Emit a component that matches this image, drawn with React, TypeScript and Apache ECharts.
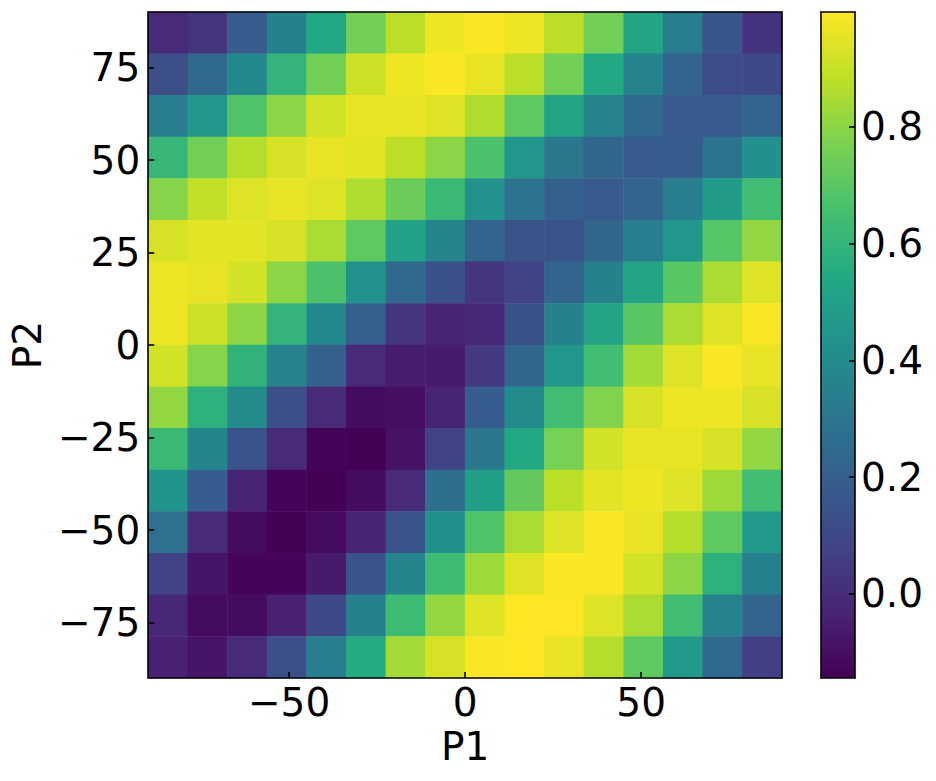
import React, { useEffect, useRef } from "react";
import * as echarts from "echarts";

// cell centres along P1 (left to right) and P2 (bottom to top)
const p1Centers = ["-84.375", "-73.125", "-61.875", "-50.625", "-39.375", "-28.125", "-16.875", "-5.625", "5.625", "16.875", "28.125", "39.375", "50.625", "61.875", "73.125", "84.375"];
const p2Centers = ["-84.375", "-73.125", "-61.875", "-50.625", "-39.375", "-28.125", "-16.875", "-5.625", "5.625", "16.875", "28.125", "39.375", "50.625", "61.875", "73.125", "84.375"];

// values, rows listed from top (P2 = 84.4) to bottom (P2 = -84.4)
const zRows: number[][] = [
  [-0.01, 0.03, 0.19, 0.35, 0.54, 0.75, 0.88, 0.97, 0.99, 0.97, 0.88, 0.75, 0.52, 0.34, 0.16, 0.02],
  [0.13, 0.24, 0.39, 0.6, 0.75, 0.91, 0.97, 0.99, 0.96, 0.88, 0.75, 0.54, 0.36, 0.22, 0.12, 0.11],
  [0.34, 0.46, 0.68, 0.8, 0.92, 0.96, 0.96, 0.94, 0.86, 0.71, 0.52, 0.36, 0.24, 0.18, 0.18, 0.22],
  [0.61, 0.75, 0.87, 0.93, 0.96, 0.95, 0.88, 0.8, 0.67, 0.45, 0.31, 0.23, 0.18, 0.19, 0.29, 0.42],
  [0.79, 0.89, 0.94, 0.96, 0.94, 0.86, 0.74, 0.62, 0.43, 0.29, 0.2, 0.18, 0.22, 0.34, 0.48, 0.64],
  [0.93, 0.95, 0.95, 0.93, 0.85, 0.71, 0.51, 0.37, 0.22, 0.15, 0.15, 0.23, 0.34, 0.45, 0.69, 0.81],
  [0.97, 0.96, 0.92, 0.8, 0.67, 0.43, 0.24, 0.14, 0.03, 0.08, 0.22, 0.35, 0.52, 0.7, 0.85, 0.94],
  [0.97, 0.91, 0.8, 0.6, 0.39, 0.2, 0.03, -0.03, -0.02, 0.14, 0.35, 0.52, 0.7, 0.85, 0.94, 0.99],
  [0.92, 0.79, 0.59, 0.36, 0.21, -0.01, -0.05, -0.06, 0.05, 0.23, 0.45, 0.64, 0.84, 0.94, 0.99, 0.96],
  [0.81, 0.58, 0.4, 0.13, -0.01, -0.11, -0.1, -0.03, 0.19, 0.4, 0.64, 0.78, 0.93, 0.97, 0.97, 0.93],
  [0.62, 0.37, 0.15, -0.01, -0.13, -0.14, -0.09, 0.08, 0.31, 0.54, 0.76, 0.92, 0.96, 0.96, 0.93, 0.81],
  [0.44, 0.19, -0.03, -0.13, -0.14, -0.11, -0.01, 0.27, 0.5, 0.72, 0.88, 0.95, 0.97, 0.94, 0.83, 0.64],
  [0.28, -0.01, -0.11, -0.14, -0.11, -0.03, 0.15, 0.42, 0.68, 0.85, 0.94, 0.99, 0.96, 0.87, 0.71, 0.47],
  [0.08, -0.08, -0.13, -0.13, -0.06, 0.15, 0.37, 0.63, 0.83, 0.94, 0.99, 0.99, 0.92, 0.8, 0.58, 0.35],
  [-0.02, -0.11, -0.11, -0.04, 0.11, 0.35, 0.63, 0.81, 0.94, 1.0, 1.0, 0.94, 0.85, 0.64, 0.36, 0.22],
  [-0.04, -0.08, -0.01, 0.13, 0.34, 0.55, 0.84, 0.93, 0.99, 1.0, 0.96, 0.87, 0.71, 0.47, 0.24, 0.07],
];

const p1Ticks = [-50, 0, 50];
const p2Ticks = [-75, -50, -25, 0, 25, 50, 75];
const cbarTicks = [0, 0.2, 0.4, 0.6, 0.8];
const vMin = -0.144;
const vMax = 0.997;
const axisMin = -90;
const axisMax = 90;

const viridis = ["#440154", "#482475", "#414487", "#355f8d", "#2a788e", "#21918c", "#22a884", "#44bf70", "#7ad151", "#bddf26", "#fde725"];

const FONT = "DejaVu Sans";
const minusFmt = (v: number) => (v < 0 ? "\u2212" + Math.abs(v) : String(v));

export default function App() {
  const ref = useRef<HTMLDivElement>(null);
  useEffect(() => {
    if (!ref.current) return;
    const chart = echarts.init(ref.current, null, { renderer: "svg" });
    const n = zRows.length;
    const data: number[][] = [];
    zRows.forEach((row, r) => {
      row.forEach((v, c) => data.push([c, n - 1 - r, v]));
    });

    const lineStyle = { color: "#000", width: 1.6 };
    const plainAxis = (extra: any) => ({
      type: "value",
      min: axisMin,
      max: axisMax,
      z: 10,
      axisLine: { show: true, onZero: false, lineStyle },
      axisTick: { show: false },
      axisLabel: { show: false },
      splitLine: { show: false },
      ...extra,
    });

    chart.setOption({
      animation: false,
      backgroundColor: "#fff",
      grid: [
        { left: 147, top: 12, width: 635, height: 666, containLabel: false },
        { left: 821, top: 12, width: 34, height: 666, containLabel: false },
      ],
      xAxis: [
        { type: "category", gridIndex: 0, data: p1Centers, show: false },
        plainAxis({
          gridIndex: 0,
          position: "bottom",
          axisTick: { show: true, inside: true, length: 6, customValues: p1Ticks, lineStyle },
          axisLabel: {
            show: true,
            customValues: p1Ticks,
            formatter: minusFmt,
            fontSize: 39,
            fontFamily: FONT,
            color: "#000",
            margin: 5,
          },
          name: "P1",
          nameLocation: "middle",
          nameGap: 48,
          nameTextStyle: { fontSize: 39, fontFamily: FONT, color: "#000" },
        }),
        plainAxis({ gridIndex: 0, position: "top" }),
        {
          type: "value",
          gridIndex: 1,
          min: 0,
          max: 1,
          position: "bottom",
          z: 10,
          axisLine: { show: true, onZero: false, lineStyle },
          axisTick: { show: false },
          axisLabel: { show: false },
          splitLine: { show: false },
        },
        {
          type: "value",
          gridIndex: 1,
          min: 0,
          max: 1,
          position: "top",
          z: 10,
          axisLine: { show: true, onZero: false, lineStyle },
          axisTick: { show: false },
          axisLabel: { show: false },
          splitLine: { show: false },
        },
      ],
      yAxis: [
        { type: "category", gridIndex: 0, data: p2Centers, show: false },
        plainAxis({
          gridIndex: 0,
          position: "left",
          axisTick: { show: true, inside: true, length: 6, customValues: p2Ticks, lineStyle },
          axisLabel: {
            show: true,
            customValues: p2Ticks,
            formatter: minusFmt,
            fontSize: 39,
            fontFamily: FONT,
            color: "#000",
            margin: 8,
          },
          name: "P2",
          nameLocation: "middle",
          nameGap: 90,
          nameTextStyle: { fontSize: 39, fontFamily: FONT, color: "#000" },
        }),
        plainAxis({ gridIndex: 0, position: "right" }),
        {
          type: "value",
          gridIndex: 1,
          min: vMin,
          max: vMax,
          position: "right",
          z: 10,
          axisLine: { show: true, onZero: false, lineStyle },
          axisTick: { show: true, inside: true, length: 6, customValues: cbarTicks, lineStyle },
          axisLabel: {
            show: true,
            customValues: cbarTicks,
            formatter: (v: number) => v.toFixed(1),
            fontSize: 39,
            fontFamily: FONT,
            color: "#000",
            margin: 6,
          },
          splitLine: { show: false },
        },
        {
          type: "value",
          gridIndex: 1,
          min: vMin,
          max: vMax,
          position: "left",
          z: 10,
          axisLine: { show: true, onZero: false, lineStyle },
          axisTick: { show: false },
          axisLabel: { show: false },
          splitLine: { show: false },
        },
      ],
      visualMap: {
        type: "continuous",
        seriesIndex: 0,
        min: vMin,
        max: vMax,
        inRange: { color: viridis },
        calculable: false,
        hoverLink: false,
        orient: "vertical",
        left: 821,
        top: 12,
        itemWidth: 34,
        itemHeight: 666,
        padding: 0,
        text: null,
        showLabel: false,
      },
      series: [
        {
          type: "heatmap",
          xAxisIndex: 0,
          yAxisIndex: 0,
          data,
          label: { show: false },
          emphasis: { disabled: true },
          itemStyle: { borderWidth: 0 },
        },
      ],
    });
    return () => chart.dispose();
  }, []);
  return (
    <div
      ref={ref}
      style={{ position: "absolute", left: 0, top: 0, width: 936, height: 781 }}
    />
  );
}
